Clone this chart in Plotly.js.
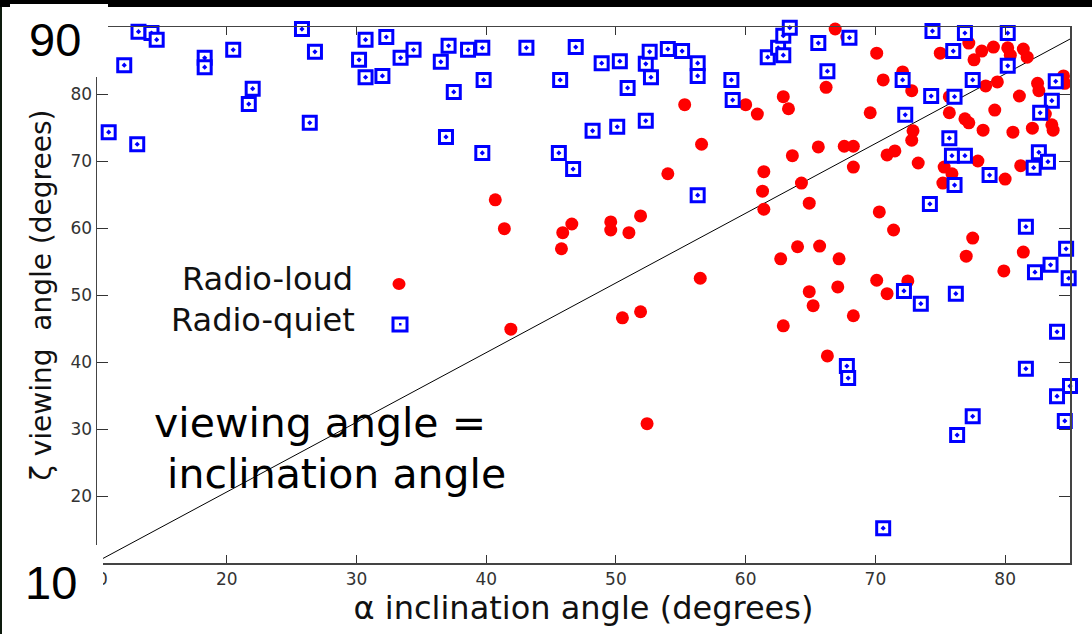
<!DOCTYPE html>
<html>
<head>
<meta charset="utf-8">
<script src="https://cdn.plot.ly/plotly-3.0.1.min.js"></script>
<style>
  html, body { margin: 0; padding: 0; background: #ffffff; }
  #chart { width: 1092px; height: 634px; }
</style>
</head>
<body>
<div id="chart"></div>
<script>
// Radio-loud sources: inclination angle alpha and viewing angle zeta (degrees)
const loudAlpha = [
  40.7, 41.4, 41.9, 45.8, 45.9, 46.6, 49.6, 49.6, 51.0, 51.9,
  50.5, 51.9, 52.4, 54.0, 55.3, 56.6, 56.5, 60.0, 60.9, 62.9,
  63.3, 63.6, 61.4, 61.3, 61.4, 64.3, 64.9, 65.6, 66.2, 66.9,
  67.8, 67.6, 68.3, 68.3, 69.6, 70.1, 70.6, 70.9, 71.5, 72.1,
  72.8, 72.9, 72.8, 73.3, 75.0, 75.3, 75.2, 75.9, 75.7, 75.7,
  76.9, 77.2, 77.2, 77.6, 78.2, 78.3, 77.9, 79.1, 80.2, 80.4,
  81.4, 81.7, 78.5, 79.4, 79.2, 80.6, 81.1, 82.5, 82.6, 84.5,
  84.6, 83.1, 83.6, 83.7, 82.1, 80.0, 81.2, 64.0, 65.7, 62.7,
  67.2, 64.9, 67.1, 65.2, 68.3, 62.9, 66.3, 70.3, 71.4, 70.1,
  72.5, 70.9, 77.5, 77.0, 81.4, 79.9, 76.1, 84.2
];
const loudZeta = [
  64.2, 59.9, 44.9, 56.9, 59.3, 60.6, 60.9, 59.7, 59.3, 61.8,
  46.6, 47.5, 30.8, 68.1, 78.4, 72.5, 52.5, 78.4, 77.0, 79.6,
  77.8, 70.8, 68.4, 65.5, 62.8, 66.7, 63.7, 72.1, 81.0, 89.7,
  88.5, 72.2, 72.2, 69.1, 77.2, 86.1, 82.1, 70.9, 71.5, 83.3,
  80.5, 74.5, 73.1, 69.7, 86.1, 69.1, 66.7, 68.1, 77.2, 79.6,
  76.3, 75.7, 87.6, 85.1, 86.4, 74.6, 70.0, 87.0, 86.9, 85.8,
  86.7, 85.5, 81.2, 81.8, 77.6, 74.3, 79.7, 81.6, 80.5, 82.7,
  81.6, 77.0, 75.4, 74.6, 74.9, 67.3, 69.3, 57.2, 57.3, 55.4,
  55.4, 50.5, 51.2, 48.4, 46.9, 45.4, 40.9, 62.4, 59.7, 52.2,
  52.1, 50.2, 58.5, 55.8, 56.4, 53.6, 66.4, 82.1
];

// Radio-quiet sources
const quietAlpha = [
  10.9, 12.1, 13.2, 13.1, 14.2, 14.6, 18.3, 18.3, 20.5, 22.0,
  21.7, 25.8, 26.8, 26.4, 30.7, 30.2, 30.7, 32.0, 32.3, 33.4,
  34.4, 36.5, 37.1, 38.6, 39.7, 39.8, 37.5, 36.9, 39.7, 43.1,
  45.7, 45.6, 46.7, 46.9, 48.2, 48.9, 50.1, 50.3, 50.9, 52.3,
  52.3, 52.6, 52.7, 54.0, 55.1, 56.3, 56.3, 56.3, 58.9, 59.0,
  61.7, 62.5, 62.9, 62.9, 63.4, 65.6, 68.0, 66.3, 72.1, 74.4,
  76.0, 76.9, 80.2, 80.2, 77.5, 74.3, 76.1, 72.3, 83.9, 83.6,
  82.7, 75.7, 75.9, 76.9, 82.6, 83.3, 82.2, 78.8, 76.1, 74.2,
  81.6, 84.7, 83.5, 82.3, 84.9, 72.2, 73.5, 76.2, 84.0, 81.6,
  67.8, 67.9, 85.0, 84.0, 77.5, 76.3, 84.6, 70.6
];
const quietZeta = [
  74.3, 84.3, 89.3, 72.5, 89.1, 88.1, 85.4, 84.0, 86.6, 80.8,
  78.5, 89.7, 86.3, 75.7, 88.1, 85.1, 82.5, 82.7, 88.5, 85.4,
  86.6, 84.8, 87.2, 86.6, 86.9, 82.1, 80.3, 73.6, 71.2, 86.9,
  82.1, 71.2, 68.8, 87.0, 74.5, 84.6, 75.1, 84.9, 80.9, 76.0,
  84.5, 86.3, 82.5, 86.7, 86.4, 84.6, 82.7, 64.9, 82.1, 79.1,
  85.5, 86.9, 85.8, 88.7, 89.9, 87.6, 88.4, 83.4, 82.1, 89.4,
  86.4, 89.1, 89.1, 84.2, 82.1, 79.7, 79.6, 76.9, 81.9, 79.0,
  77.2, 73.4, 70.8, 70.8, 71.3, 69.9, 69.0, 67.9, 66.4, 63.6,
  60.2, 56.9, 54.5, 53.4, 52.5, 50.6, 48.7, 50.2, 44.5, 39.0,
  39.4, 37.6, 36.4, 34.9, 31.9, 29.1, 31.2, 15.2
];

// Reference line "viewing angle = inclination angle"
const lineAlpha = [10, 85];
const lineZeta = [10.2, 88.2];

// Axis ticks (the 10 and 90 ends of the zeta axis are written as large labels instead)
const alphaTicks = [10, 20, 30, 40, 50, 60, 70, 80];
const alphaTickText = ['10', '20', '30', '40', '50', '60', '70', '80'];
const zetaTicks = [10, 20, 30, 40, 50, 60, 70, 80, 90];
const zetaTickText = ['', '20', '30', '40', '50', '60', '70', '80', ''];

// Plot-area geometry in pixels, used to place overlay boxes and labels
const W = 1092, H = 634;
const L = 97, R = 1070, T = 27, B = 563;
const px = v => (v - L) / (R - L);
const py = v => (B - v) / (B - T);

const sans = 'DejaVu Sans, Verdana, sans-serif';
const arial = 'Liberation Sans, Arial, sans-serif';

const traces = [
  {
    x: lineAlpha, y: lineZeta, mode: 'lines', type: 'scatter',
    line: { color: '#000000', width: 1 }, hoverinfo: 'skip', showlegend: false
  },
  {
    name: 'Radio-loud', x: loudAlpha, y: loudZeta, mode: 'markers', type: 'scatter',
    marker: { symbol: 'circle', size: 13, color: '#ff0000', line: { width: 0 } },
    cliponaxis: false, showlegend: false
  },
  {
    name: 'Radio-quiet', x: quietAlpha, y: quietZeta, mode: 'markers', type: 'scatter',
    marker: { symbol: 'square-dot', size: 13, color: '#ffffff', line: { color: '#0000ff', width: 3 } },
    cliponaxis: false, showlegend: false
  }
];

const shapes = [
  // dark band along the top edge
  { type: 'rect', xref: 'paper', yref: 'paper', x0: px(0), x1: px(W), y0: py(7), y1: py(0),
    fillcolor: '#000000', line: { width: 0 }, layer: 'above' },
  // white boxes carrying the large 90 / 10 end labels
  { type: 'rect', xref: 'paper', yref: 'paper', x0: px(10), x1: px(108), y0: py(77), y1: py(4),
    fillcolor: '#ffffff', line: { width: 0 }, layer: 'above' },
  { type: 'rect', xref: 'paper', yref: 'paper', x0: px(0), x1: px(103), y0: py(H), y1: py(545),
    fillcolor: '#ffffff', line: { width: 0 }, layer: 'above' },
  // thin dark strip on the left edge
  { type: 'rect', xref: 'paper', yref: 'paper', x0: px(0), x1: px(2), y0: py(H), y1: py(7),
    fillcolor: '#0d1a0d', line: { width: 0 }, layer: 'above' },
  // key swatches
  { type: 'circle', xref: 'paper', yref: 'paper', x0: px(392.5), x1: px(405.5), y0: py(290), y1: py(278),
    fillcolor: '#ff0000', line: { width: 0 }, layer: 'above' },
  { type: 'rect', xref: 'paper', yref: 'paper', x0: px(393), x1: px(407), y0: py(331), y1: py(318),
    fillcolor: '#ffffff', line: { color: '#0000ff', width: 3 }, layer: 'above' },
  { type: 'rect', xref: 'paper', yref: 'paper', x0: px(399), x1: px(401.5), y0: py(325.5), y1: py(323),
    fillcolor: '#0000ff', line: { width: 0 }, layer: 'above' }
];

const annotations = [
  { text: '90', x: px(55), y: py(40), xanchor: 'center', yanchor: 'middle',
    font: { family: arial, size: 47, color: '#000000' } },
  { text: '10', x: px(51), y: py(582), xanchor: 'center', yanchor: 'middle',
    font: { family: arial, size: 47, color: '#000000' } },
  { text: 'Radio-loud', x: px(355), y: py(279), xanchor: 'right', yanchor: 'middle',
    font: { family: sans, size: 32, color: '#111111' } },
  { text: 'Radio-quiet', x: px(357), y: py(320), xanchor: 'right', yanchor: 'middle',
    font: { family: sans, size: 32, color: '#111111' } },
  { text: 'viewing angle =', x: px(152), y: py(423), xanchor: 'left', yanchor: 'middle',
    font: { family: sans, size: 41, color: '#000000' } },
  { text: 'inclination angle', x: px(165), y: py(474), xanchor: 'left', yanchor: 'middle',
    font: { family: sans, size: 41, color: '#000000' } }
].map(a => Object.assign({ xref: 'paper', yref: 'paper', showarrow: false }, a));

const layout = {
  width: W, height: H,
  margin: { l: L, r: W - R, t: T, b: H - B, pad: 0 },
  paper_bgcolor: '#ffffff',
  plot_bgcolor: '#ffffff',
  showlegend: false,
  xaxis: {
    range: [10, 85], tickvals: alphaTicks, ticktext: alphaTickText,
    ticks: 'inside', ticklen: 8, tickwidth: 1, tickcolor: '#333333',
    showline: true, linecolor: '#444444', linewidth: 1.5, mirror: 'ticks',
    showgrid: false, zeroline: false,
    tickfont: { family: sans, size: 17, color: '#333333' },
    title: { text: 'α inclination angle (degrees)', standoff: 2,
             font: { family: sans, size: 32, color: '#111111' } }
  },
  yaxis: {
    range: [10, 90], tickvals: zetaTicks, ticktext: zetaTickText,
    ticks: 'inside', ticklen: 11, tickwidth: 1, tickcolor: '#333333',
    showline: true, linecolor: '#444444', linewidth: 1.5, mirror: 'ticks',
    showgrid: false, zeroline: false,
    tickfont: { family: sans, size: 17, color: '#333333' },
    title: { text: 'ζ viewing&nbsp; angle (degrees)', standoff: 10,
             font: { family: sans, size: 28, color: '#111111' } }
  },
  shapes: shapes,
  annotations: annotations
};

Plotly.newPlot('chart', traces, layout, { staticPlot: true, displayModeBar: false });
</script>
</body>
</html>
